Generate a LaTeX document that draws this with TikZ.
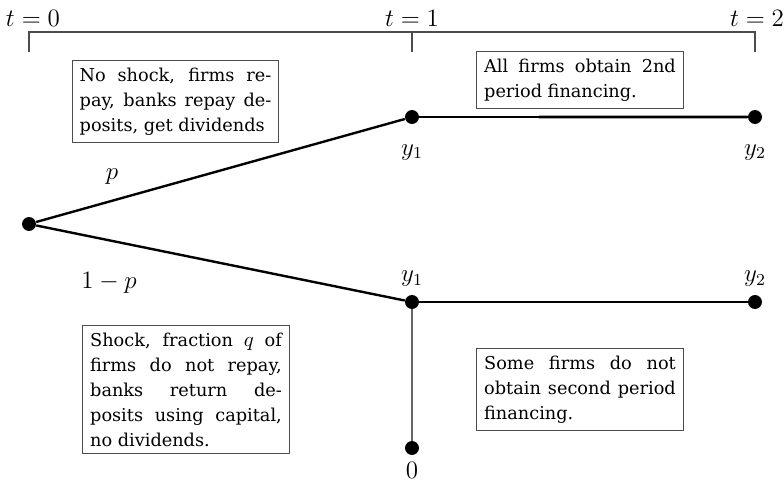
\documentclass[tikz,border=0pt]{standalone}
\usepackage{fontspec}
\setmainfont{DejaVu Serif}[Scale=0.85]
\usetikzlibrary{positioning,calc}

\begin{document}
\begin{tikzpicture}[x=0.48pt, y=-0.48pt,
  dot/.style={circle, fill=black, inner sep=0pt, minimum size=6.7pt},
  branch/.style={line width=1.15pt, draw=black},
  stem/.style={line width=0.9pt, draw=black!60},
  brk/.style={line width=0.6pt, draw=black!70},
  lab/.style={font=\fontsize{11.5}{13}\selectfont},
  info/.style={draw=black!70, line width=0.6pt, text width=92pt,
               align=justify, inner sep=3.6pt, font=\normalsize}
]
\useasboundingbox (0,0) rectangle (784,482);

% time axis
\node[lab] (t0) at (33,18) {$t=0$};
\node[lab] (t1) at (412,18) {$t=1$};
\node[lab] (t2) at (757,18) {$t=2$};
\coordinate (b0) at (29,52);
\coordinate (b1) at (412,52);
\coordinate (b2) at (755,52);
\draw[brk] (b0) |- (b2 |- 0,32) -- (b2);
\draw[brk] (b1) -- (b1 |- 0,32);

% tree
\node[dot] (root) at (29,224) {};
\node[dot] (u1) at (412,117) {};
\node[dot] (u2) at (755,117) {};
\node[dot] (d1) at (412,302) {};
\node[dot] (d2) at (755,302) {};
\node[dot] (d0) at (412,448) {};

\draw[branch] (root) -- (u1);
\draw[branch] (root) -- (d1);
\draw[line width=0.7pt] (u1) -- (u2);
\draw[line width=1.4pt] ($(u1)!0.37!(u2)$) -- (u2);
\draw[branch] (d1) -- (d2);
\draw[stem] (d1) -- (d0);

\node[lab] (pup) at (112,177) {$p$};
\node[lab] (pdn) at (109,283) {$1-p$};
\node[lab, below=6.5pt of u1] (lu1) {$y_1$};
\node[lab, below=6.5pt of u2] (lu2) {$y_2$};
\node[lab, above=1pt of d1] (ld1) {$y_1$};
\node[lab, above=1pt of d2] (ld2) {$y_2$};
\node[lab, below=0.5pt of d0] (ld0) {$0$};

% outcome boxes
\node[info] (noshock) at (175.5,101.5) {No shock, firms re-\linebreak pay, banks repay de-\linebreak posits, get dividends};
\node[info] (allfin) at (580,80) {All firms obtain 2nd\linebreak period financing.};
\node[info] (somefin) at (580,389.5) {Some firms do not\linebreak obtain second period\linebreak financing.};
\node[info] (shock) at (186,389.5) {Shock, fraction $q$ of\linebreak firms do not repay,\linebreak banks return de-\linebreak posits using capital,\linebreak no dividends.};
\end{tikzpicture}
\end{document}
